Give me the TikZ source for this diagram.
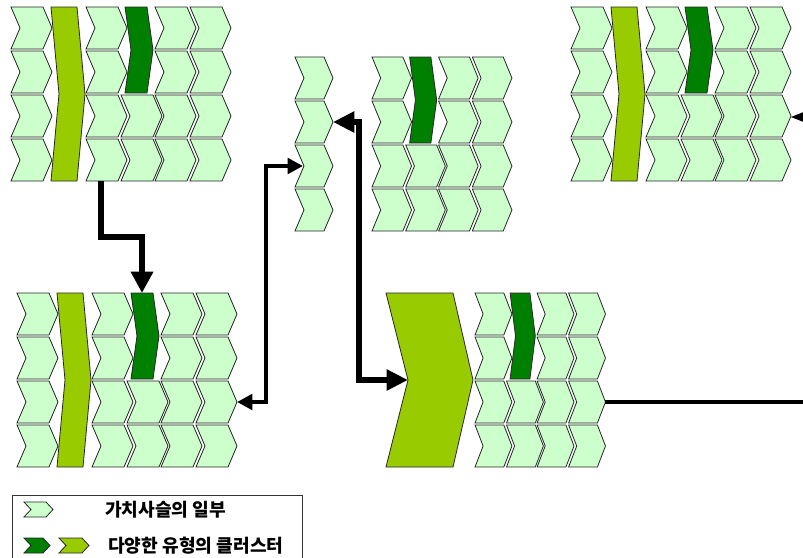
\documentclass[tikz,border=0pt]{standalone}
\usepackage{fontspec}
\newfontfamily\krfont{Noto Sans CJK KR}
\usetikzlibrary{arrows.meta}

\definecolor{paleg}{HTML}{CCFFCC}
\definecolor{limeg}{HTML}{99CC00}
\definecolor{deepg}{HTML}{008000}

\tikzset{
  chevline/.style={draw=black!85, line width=0.6pt, line join=miter},
  light/.style={chevline, fill=paleg},
  lime/.style={chevline, fill=limeg},
  deep/.style={chevline, fill=deepg},
  heavylink/.style={draw=black, line width=4pt},
  midlink/.style={draw=black, line width=3pt},
  bigtip/.style={-{Triangle[length=16pt,width=16pt]}},
  legtext/.style={anchor=west, inner sep=0pt, font=\krfont\bfseries\fontsize{13.6pt}{15pt}\selectfont},
}

% chevron: \chev{style}{x}{y}{width}{height}{point depth}
\newcommand\chev[6]{%
  \path[#1] (#2,#3) -- ({#2+#4-#6},#3) -- ({#2+#4},{#3+#5/2})
    -- ({#2+#4-#6},{#3+#5}) -- (#2,{#3+#5}) -- ({#2+#6},{#3+#5/2}) -- cycle;}

% four-column grid of activities with one cluster spanning the two top rows
\newcommand\cgrid{%
  \foreach \r in {0,1,2,3} {%
    \chev{light}{0}{\r*44}{41}{42}{9}
    \chev{light}{69}{\r*44}{41}{42}{9}
    \chev{light}{104}{\r*44}{41}{42}{9}
  }
  \foreach \r in {2,3} {\chev{light}{35}{\r*44}{41}{42}{9}}
  \chev{deep}{39}{0}{28}{86}{6}
}

% full chain: first column, tall cluster, then the grid
\newcommand\cblock{%
  \foreach \r in {0,1,2,3} {\chev{light}{0}{\r*44}{41}{42}{9}}
  \chev{lime}{40}{0}{34}{174}{8}
  \begin{scope}[shift={(75,0)}]\cgrid\end{scope}
}

\begin{document}
\begin{tikzpicture}[x=0.75pt,y=-0.75pt]
  \useasboundingbox (0,0) rectangle (803,557);
  \clip (0,0) rectangle (803,557);

  % chains
  \begin{scope}[shift={(11,7)}]\cblock\end{scope}
  \begin{scope}[shift={(571,7)}]\cblock\end{scope}
  \begin{scope}[shift={(17,293)}]\cblock\end{scope}

  % middle chain: single column and narrower grid
  \foreach \r in {0,1,2,3} {\chev{light}{295}{57+\r*44}{38}{42}{9}}
  \begin{scope}[shift={(372,57)}, xscale=0.965]\cgrid\end{scope}

  % lower chain: large cluster and compact grid
  \path[lime] (386,293) -- (453,293) -- (473,380) -- (453,467) -- (386,467) -- (408,380) -- cycle;
  \begin{scope}[shift={(475,293)}, xscale=0.9]\cgrid\end{scope}

  % connector ends
  \coordinate (a1) at (101,181);
  \coordinate (a4) at (142,293);
  \coordinate (c4) at (237,402);
  \coordinate (c2) at (303,166);
  \coordinate (t2) at (333,122);
  \coordinate (n5) at (408,380);
  \coordinate (t5) at (605,402);
  \coordinate (eR) at (805,402);
  \coordinate (t3) at (790,117);
  \coordinate (eU) at (830,117);

  % connectors
  \draw[heavylink, bigtip] (a1) -- ++(0,56) -| (a4);
  \draw[midlink, {Triangle[length=11.5pt,width=11.5pt]}-{Triangle[length=11.5pt,width=11.5pt]}]
    (c4) -- (266,402) |- (c2);
  \draw[heavylink, {Triangle[length=16pt,width=15pt]}-{Triangle[length=16pt,width=15pt]}]
    (t2) -- (359,122) |- (n5);
  \draw[midlink] (t5) -- (eR);
  \draw[midlink, -{Triangle[length=11.5pt,width=7.5pt]}] (eU) -- (t3);

  % legend
  \draw[line width=0.75pt, draw=black!80] (12,495) rectangle (302,580);
  \chev{light}{24}{502}{29}{15}{7}
  \chev{deep}{24}{538}{26}{15}{7}
  \chev{lime}{59}{538}{30}{15}{7}
  \node[legtext] (lg1) at (105,510) {가치사슬의 일부};
  \node[legtext] (lg2) at (108,546) {다양한 유형의 클러스터};
\end{tikzpicture}
\end{document}
